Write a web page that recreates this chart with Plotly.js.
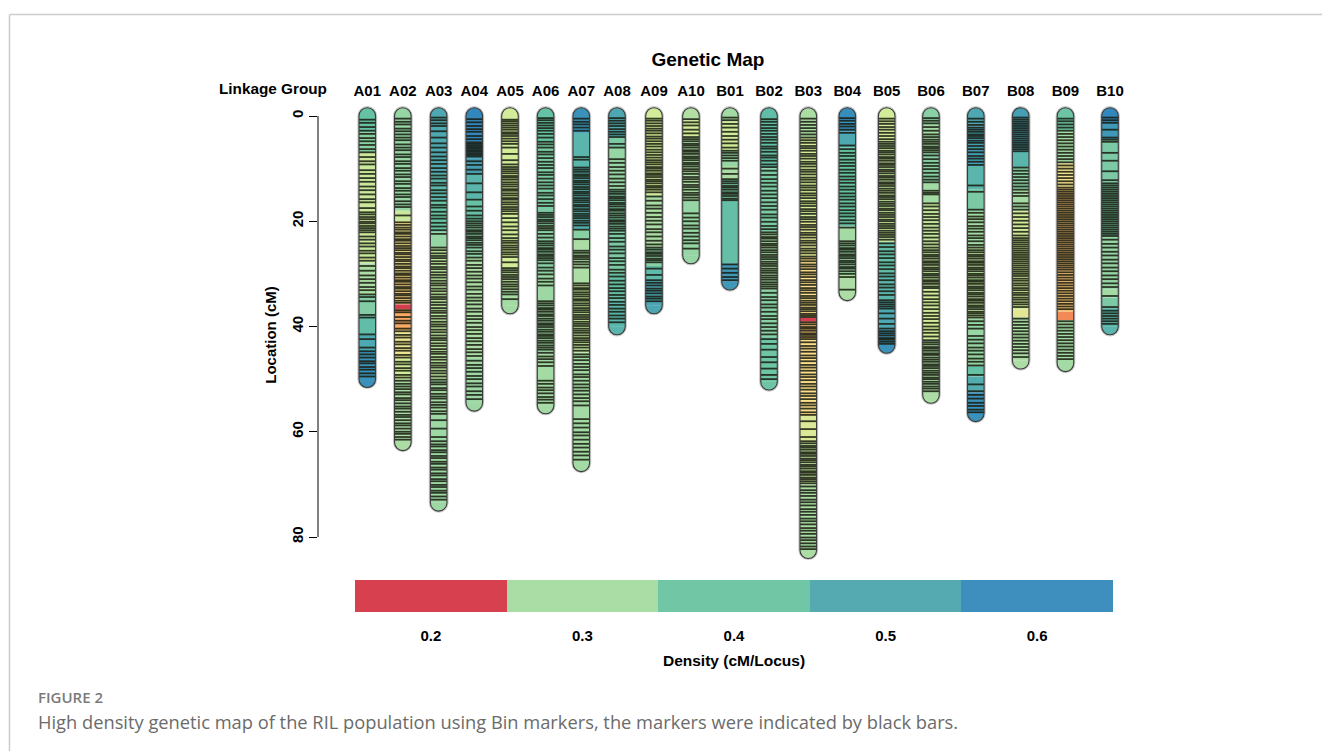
<!DOCTYPE html>
<html><head><meta charset="utf-8">
<script src="https://cdn.plot.ly/plotly-3.0.1.min.js"></script>
<style>html,body{margin:0;padding:0;background:#fff;}#chart{width:1322px;height:751px;}</style>
</head><body><div id="chart"></div>
<script>
// ---------------- DATA ----------------
const groups = ['A01','A02','A03','A04','A05','A06','A07','A08','A09','A10','B01','B02','B03','B04','B05','B06','B07','B08','B09','B10'];
const groupLengths = [50,62,73.5,54.5,36,55,66,40,36,26.5,31.5,50.5,82.5,33.5,43.5,53,56.5,46.5,47,40];

// density segments: [start cM, density cM/locus]
const segA01 = [[0,0.45],[3,0.40],[7,0.31],[28,0.35],[34,0.41],[38,0.47],[41.5,0.55],[44.5,0.62]];
const segA02 = [[0,0.38],[18,0.31],[20,0.26],[30,0.24],[35.8,0.15],[36.7,0.21],[40.7,0.27],[46,0.30],[50,0.35]];
const segA03 = [[0,0.55],[11,0.50],[16,0.45],[22,0.38],[25,0.33],[50,0.36],[56,0.37]];
const segA04 = [[0,0.65],[5,0.60],[8,0.58],[11,0.50],[16,0.45],[20,0.40],[27,0.35],[46,0.37]];
const segA05 = [[0,0.30],[29,0.33],[33,0.36]];
const segA06 = [[0,0.45],[5,0.42],[20,0.40],[30,0.37],[45,0.36]];
const segA07 = [[0,0.62],[3.2,0.50],[9.5,0.53],[21.5,0.40],[23.5,0.35],[32,0.32],[45,0.36]];
const segA08 = [[0,0.55],[4,0.42],[6,0.38],[14,0.42],[30,0.46],[35,0.50]];
const segA09 = [[0,0.30],[15,0.35],[25,0.40],[28.5,0.48],[31,0.56]];
const segA10 = [[0,0.34],[0.8,0.30],[4,0.35],[16,0.38]];
const segB01 = [[0,0.36],[1,0.30],[6.5,0.38],[9.5,0.35],[12,0.42],[16,0.46],[28,0.60]];
const segB02 = [[0,0.47],[10,0.42],[22,0.36],[33,0.40],[42,0.44]];
const segB03 = [[0,0.35],[4,0.30],[20,0.28],[27,0.25],[38.3,0.15],[39.1,0.23],[42.5,0.25],[57,0.29],[62,0.32],[70,0.35]];
const segB04 = [[0,0.63],[3,0.55],[6,0.45],[21,0.36],[24,0.38],[30,0.35]];
const segB05 = [[0,0.30],[5,0.32],[24,0.47],[30,0.50],[35,0.55],[40.5,0.62]];
const segB06 = [[0,0.40],[1.5,0.36],[7,0.40],[12.5,0.36],[16.5,0.32],[33,0.30],[42.5,0.35]];
const segB07 = [[0,0.55],[2,0.58],[9.5,0.50],[14,0.42],[18,0.36],[25,0.33],[38.5,0.38],[47.5,0.45],[49.5,0.53],[52.5,0.62]];
const segB08 = [[0,0.58],[6.8,0.50],[9.7,0.40],[14,0.36],[18,0.30],[36.8,0.28],[38.3,0.35]];
const segB09 = [[0,0.44],[2.7,0.36],[9,0.26],[13.5,0.23],[37.2,0.19],[38.8,0.36]];
const segB10 = [[0,0.65],[1.5,0.60],[4.5,0.42],[12.5,0.43],[23,0.38],[33,0.36],[34.5,0.42],[36.5,0.50]];

// bin marker positions (cM)
const mA01 = [0.7,1.3,2.1,2.8,3.4,4.2,4.8,5.5,6.3,6.9,7.8,8.6,9.2,10.3,11.0,11.8,12.5,13.4,14.1,14.9,15.8,16.4,17.5,18.3,18.7,19.2,19.6,20.1,20.4,20.9,21.3,21.7,22.1,22.9,23.5,24.2,24.8,25.6,26.1,26.9,27.5,28.5,29.4,30.3,31.0,31.7,32.5,33.1,33.9,34.4,35.2,37.8,38.3,41.5,42.4,44.0,44.7,45.3,45.9,46.6,47.0,47.7,48.2,48.9,49.5];
const mA02 = [0.5,1.1,1.6,2.4,2.9,3.5,4.1,4.6,5.4,6.0,6.5,7.3,7.8,8.6,9.1,9.9,10.4,11.1,11.6,12.4,12.9,13.7,14.2,14.9,15.4,16.2,16.8,17.3,18.9,20.2,20.7,21.2,21.6,22.1,22.4,22.9,23.4,23.7,24.2,24.7,25.1,25.5,26.0,26.3,26.8,27.3,27.6,28.1,28.6,28.9,29.4,29.9,30.2,30.7,31.2,31.5,32.0,32.5,32.8,33.3,33.8,34.1,34.6,35.1,35.5,36.9,37.3,38.2,38.9,39.4,40.4,40.9,41.6,42.1,42.9,43.4,44.1,44.6,45.4,45.9,46.7,47.2,47.9,48.4,49.2,49.7,50.3,50.9,51.4,51.9,52.5,52.9,53.6,54.0,54.6,55.2,55.6,56.2,56.8,57.2,57.8,58.4,58.8,59.4,60.0,60.4,61.0,61.5];
const mA03 = [0.3,0.8,1.4,1.9,2.9,4.1,5.2,6.0,6.9,7.7,8.4,9.1,9.9,10.6,11.3,11.9,12.7,13.2,14.1,14.7,15.4,16.1,16.9,17.4,18.2,18.9,19.5,20.3,21.0,21.7,22.4,25.0,25.5,26.1,26.6,27.0,27.6,28.1,28.7,29.1,29.7,30.2,30.7,31.3,31.8,32.2,32.8,33.3,33.9,34.4,34.8,35.4,35.9,36.5,37.0,37.4,38.0,38.5,39.1,39.6,40.0,40.6,41.1,41.7,42.2,42.6,43.2,43.7,44.3,44.8,45.2,45.8,46.3,46.9,47.4,47.8,48.4,48.9,49.5,50.1,50.6,51.0,51.7,52.1,52.8,53.3,53.7,54.4,54.9,55.4,56.1,56.6,57.8,59.4,61.0,61.8,62.4,62.8,63.5,63.9,64.6,65.0,65.7,66.1,66.8,67.2,67.9,68.3,69.0,69.4,70.1,70.5,71.2,71.6,72.3,72.9];
const mA04 = [0.6,1.2,1.9,2.5,3.0,3.8,4.4,5.0,5.3,5.6,5.9,6.2,6.5,6.8,7.1,7.4,7.7,8.6,9.3,10.2,11.0,12.8,14.5,15.9,17.2,18.0,18.9,19.5,20.0,20.4,20.8,21.2,21.7,22.0,22.4,22.9,23.2,23.6,24.1,24.5,25.0,25.7,26.2,26.9,27.5,28.3,28.9,29.6,30.3,30.9,31.6,32.4,33.0,33.8,34.5,35.1,35.8,36.6,37.2,38.0,38.6,39.3,40.1,40.7,41.4,42.2,42.8,43.5,44.3,44.9,45.6,46.5,47.3,47.9,48.6,49.4,50.0,50.8,51.4,52.3,53.0,53.8];
const mA05 = [0.7,1.0,1.4,1.8,2.2,2.6,3.1,3.4,3.8,4.3,4.8,5.3,6.0,7.2,8.4,9.2,9.7,10.1,10.5,10.9,11.4,11.7,12.1,12.6,13.0,13.4,13.9,14.2,14.7,15.1,15.6,15.9,16.4,16.8,17.3,17.7,18.1,18.6,19.4,20.2,21.0,21.7,22.5,23.2,23.7,24.1,24.6,25.0,25.4,25.9,26.3,26.8,27.8,28.9,29.3,29.7,30.2,30.6,31.0,31.5,32.0,32.4,32.9,33.4,33.9,34.8];
const mA06 = [0.4,0.8,1.3,1.8,2.3,2.8,3.4,4.1,4.9,5.4,6.0,6.8,7.3,8.0,8.7,9.3,9.9,10.7,11.2,11.9,12.6,13.2,13.8,14.6,15.1,15.8,16.5,17.1,18.4,18.8,19.2,19.7,20.0,20.4,20.9,21.3,21.7,22.4,23.1,23.8,24.2,24.6,25.1,25.4,25.8,26.3,26.6,27.0,27.4,28.0,28.8,29.4,30.1,30.9,31.5,32.2,35.2,35.6,36.0,36.5,36.8,37.2,37.7,38.0,38.5,38.9,39.4,39.7,40.1,40.6,41.0,41.5,41.8,42.2,42.7,43.1,43.6,44.0,44.4,45.0,45.7,46.2,46.8,47.5,50.3,50.9,51.6,52.1,52.7,53.4,53.9,54.5];
const mA07 = [0.5,1.1,1.6,2.2,2.8,7.8,8.3,9.8,10.2,10.6,11.1,11.4,11.8,12.3,12.6,13.0,13.5,13.9,14.4,14.7,15.1,15.6,16.0,16.4,16.9,17.2,17.7,18.1,18.6,19.0,19.4,19.9,20.3,20.8,21.6,23.4,25.6,26.0,26.5,26.8,27.2,27.7,28.2,28.8,31.8,32.2,32.7,33.0,33.5,33.9,34.3,34.8,35.1,35.6,36.0,36.5,36.9,37.3,37.8,38.2,38.6,39.1,39.5,39.9,40.4,40.8,41.2,41.7,42.2,42.6,43.0,43.5,44.0,44.6,45.3,45.8,46.4,47.1,47.7,48.3,49.1,49.6,50.3,51.0,51.6,52.2,52.9,53.6,54.2,55.0,57.6,58.4,59.2,60.1,60.7,61.5,62.3,63.0,63.8,64.5,65.3];
const mA08 = [0.4,0.9,1.4,1.9,2.5,3.0,3.5,4.0,5.3,6.0,8.2,8.9,9.7,10.4,11.1,11.9,12.6,13.3,14.0,14.4,14.8,15.3,15.6,16.0,16.5,16.8,17.2,17.7,18.0,18.5,18.9,19.3,19.8,20.1,20.5,21.0,21.4,21.8,22.4,23.2,23.9,24.8,25.4,26.1,27.0,27.6,28.3,29.2,29.8,30.5,31.3,32.0,32.7,33.3,34.0,34.6,35.3,35.9,36.6,37.2,37.9,38.5,39.2];
const mA09 = [0.5,0.9,1.4,1.9,2.4,2.8,3.3,3.9,4.3,4.8,5.3,5.8,6.4,6.9,7.4,7.9,8.4,8.8,9.2,9.7,10.0,10.4,10.9,11.2,11.6,12.1,12.4,12.8,13.3,13.6,14.0,14.5,15.3,16.1,17.0,17.6,18.4,19.2,19.9,20.6,21.5,22.1,22.9,23.7,24.4,25.0,25.4,25.9,26.2,26.6,27.1,27.4,27.8,29.0,30.2,31.2,31.7,32.2,32.8,33.2,33.7,34.3,34.7,35.2];
const mA10 = [0.6,1.2,1.8,2.6,3.3,4.0,4.4,4.8,5.3,5.6,6.0,6.5,6.8,7.2,7.7,8.0,8.4,8.9,9.2,9.6,10.1,10.5,11.0,11.6,12.0,12.5,13.1,13.5,14.0,14.6,15.0,15.5,16.0,18.5,19.3,20.0,20.8,21.4,22.2,22.9,23.6,24.2,25.2];
const mB01 = [0.3,0.8,1.5,2.2,3.0,3.8,4.5,5.2,6.0,6.6,7.0,7.5,8.0,8.5,10.0,11.0,12.0,12.4,12.8,13.3,13.6,14.0,14.5,14.8,15.2,15.7,16.0,28.2,29.0,29.8,30.6,31.2];
const mB02 = [0.6,1.1,1.7,2.3,2.8,3.4,4.0,4.5,5.1,5.8,6.2,6.8,7.5,7.9,8.5,9.2,9.7,10.4,11.2,12.0,12.7,13.4,14.2,14.9,15.6,16.4,17.1,17.8,18.7,19.3,20.1,20.9,21.5,22.1,22.5,23.0,23.3,23.8,24.3,24.6,25.0,25.5,25.9,26.4,26.8,27.2,27.7,28.1,28.5,29.0,29.4,29.8,30.3,30.7,31.1,31.6,32.0,32.4,32.8,33.6,34.4,35.0,35.8,36.4,37.2,38.0,38.6,39.4,40.1,40.8,41.5,42.4,43.3,44.4,45.8,46.8,48.0,49.2,50.0];
const mB03 = [0.5,1.1,1.7,2.3,2.9,3.5,4.1,4.6,5.1,5.7,6.1,6.6,7.2,7.6,8.1,8.7,9.1,9.6,10.2,10.6,11.1,11.7,12.1,12.6,13.2,13.6,14.1,14.7,15.1,15.6,16.2,16.6,17.1,17.7,18.1,18.6,19.2,19.6,20.1,20.7,21.1,21.6,22.2,22.6,23.1,23.7,24.1,24.6,25.2,25.6,26.1,26.7,27.1,27.6,28.2,28.6,29.1,29.7,30.1,30.6,31.2,31.6,32.1,32.7,33.1,33.6,34.2,34.6,35.1,35.5,35.9,36.4,36.7,37.1,37.6,37.9,38.2,39.2,39.6,40.1,40.4,40.8,41.3,41.6,42.0,42.4,43.0,43.7,44.2,44.8,45.5,46.0,46.6,47.3,47.8,48.4,49.1,49.6,50.2,50.9,51.4,52.0,52.7,53.2,53.8,54.5,55.0,55.6,56.3,56.8,58.0,59.5,61.0,61.8,62.2,62.7,63.0,63.4,63.9,64.2,64.6,65.1,65.4,65.8,66.3,66.6,67.0,67.5,67.8,68.2,68.7,69.0,69.4,69.8,70.4,71.1,71.6,72.2,72.9,73.4,74.0,74.7,75.2,75.8,76.5,77.0,77.6,78.3,78.8,79.4,80.1,80.6,81.2,81.8,82.3];
const mB04 = [0.4,0.9,1.5,2.0,2.6,3.2,5.6,6.3,7.0,7.6,8.3,8.9,9.5,10.2,10.8,11.5,12.1,12.7,13.4,14.0,14.7,15.3,15.9,16.6,17.2,17.9,18.5,19.1,19.8,20.4,21.2,23.8,24.2,24.6,25.1,25.4,25.8,26.3,26.6,27.0,27.5,27.8,28.2,28.7,29.0,29.5,30.0,30.6,33.0];
const mB05 = [0.5,1.0,1.5,2.1,2.6,3.2,3.8,4.4,4.9,5.3,5.7,6.1,6.6,6.9,7.3,7.8,8.1,8.5,9.0,9.3,9.7,10.2,10.5,10.9,11.4,11.7,12.1,12.6,12.9,13.3,13.8,14.2,14.6,15.1,15.4,15.8,16.3,16.7,17.1,17.6,17.9,18.4,18.8,19.2,19.7,20.0,20.5,20.9,21.3,21.8,22.2,22.6,23.0,23.5,24.2,24.9,25.7,26.3,27.0,27.8,28.4,29.1,29.9,30.5,31.2,32.0,32.6,33.3,34.0,35.0,35.4,35.8,36.2,36.6,37.5,38.5,39.5,40.4,40.9,41.3,41.7,42.2,42.5,42.9,43.3];
const mB06 = [0.4,0.9,1.4,2.1,2.8,3.5,4.0,4.5,4.9,5.3,5.8,6.1,6.5,6.9,7.5,8.2,8.9,9.5,10.1,10.8,11.5,12.1,12.6,14.2,14.6,14.9,16.6,17.2,17.9,18.6,19.2,19.8,20.5,21.2,21.8,22.4,23.1,23.8,24.4,25.0,25.5,25.9,26.4,26.7,27.1,27.6,27.9,28.3,28.8,29.1,29.5,30.0,30.3,30.7,31.2,31.5,31.9,32.4,32.7,33.4,34.1,34.8,35.4,36.0,36.7,37.4,38.0,38.6,39.3,40.0,40.6,41.2,41.9,42.6,43.0,43.4,43.9,44.2,44.6,45.1,45.4,45.9,46.3,46.7,47.2,47.5,47.9,48.4,48.8,49.2,49.7,50.0,50.5,50.9,51.4,51.8,52.3];
const mB07 = [0.5,1.1,1.7,2.2,2.6,3.0,3.5,3.8,4.2,4.7,5.1,5.7,6.3,6.9,7.6,8.1,8.7,9.3,13.2,14.4,17.8,18.4,19.1,19.6,20.2,20.9,21.4,22.0,22.7,23.2,23.8,24.5,25.0,25.5,25.9,26.4,26.7,27.1,27.6,27.9,28.3,28.8,29.1,29.5,30.0,30.3,30.7,31.2,31.5,31.9,32.4,32.7,33.1,33.6,33.9,34.3,34.8,35.1,35.5,36.0,36.3,36.7,37.2,37.5,37.9,38.3,39.0,39.7,40.4,41.8,42.5,43.2,44.0,44.6,45.3,46.1,46.7,47.4,49.2,51.0,52.3,53.0,53.7,54.5,55.1,55.8,56.3];
const mB08 = [0.3,0.7,1.1,1.5,1.9,2.3,2.7,3.1,3.5,3.9,4.3,4.7,5.1,5.5,5.9,6.3,6.7,9.8,10.4,11.0,11.6,12.2,12.8,13.4,14.0,14.6,15.2,16.6,17.2,17.8,18.5,19.2,19.9,20.6,21.3,22.0,22.7,23.2,23.6,24.0,24.4,24.8,25.2,25.6,26.0,26.4,26.8,27.2,27.6,28.0,28.4,28.8,29.2,29.6,30.0,30.4,30.9,31.3,31.8,32.2,32.7,33.1,33.6,34.0,34.5,34.9,35.4,35.8,36.3,38.5,39.1,39.7,40.3,40.9,41.5,42.1,42.7,43.3,43.9,44.5,45.1,45.8];
const mB09 = [0.5,1.0,1.6,2.2,2.8,3.4,4.0,4.6,5.2,5.8,6.4,7.0,7.6,8.2,8.8,9.4,10.0,10.6,11.2,11.8,12.4,13.0,13.6,14.0,14.4,14.8,15.2,15.6,16.0,16.4,16.8,17.2,17.6,18.0,18.4,18.8,19.2,19.6,20.0,20.4,20.8,21.2,21.6,22.0,22.4,22.8,23.2,23.6,24.0,24.4,24.8,25.2,25.6,26.0,26.4,26.8,27.2,27.6,28.0,28.4,28.8,29.2,29.7,30.2,30.7,31.2,31.7,32.2,32.7,33.2,33.7,34.2,34.7,35.2,35.7,36.2,36.7,39.0,39.6,40.2,40.8,41.4,42.0,42.6,43.2,43.8,44.4,45.0,45.6,46.2];
const mB10 = [0.3,0.8,1.3,2.6,4.1,4.5,4.9,7.0,8.5,10.5,12.2,12.8,13.2,13.6,14.0,14.4,14.8,15.2,15.6,16.0,16.4,16.8,17.2,17.6,18.0,18.4,18.8,19.2,19.6,20.0,20.4,20.8,21.2,21.6,22.0,22.4,22.8,23.5,24.3,25.0,25.8,26.5,27.3,28.0,28.8,29.5,30.3,31.0,31.8,32.5,34.2,36.3,37.0,37.5,38.0,38.5,39.0,39.5];

const yTickVals = [0, 20, 40, 60, 80];
const legendDensity = [0.2, 0.3, 0.4, 0.5, 0.6];
const legendLabels = ['0.2', '0.3', '0.4', '0.5', '0.6'];

// ---------------- LAYOUT / STYLE ----------------
const segSets = [segA01,segA02,segA03,segA04,segA05,segA06,segA07,segA08,segA09,segA10,segB01,segB02,segB03,segB04,segB05,segB06,segB07,segB08,segB09,segB10];
const markerSets = [mA01,mA02,mA03,mA04,mA05,mA06,mA07,mA08,mA09,mA10,mB01,mB02,mB03,mB04,mB05,mB06,mB07,mB08,mB09,mB10];
const groupX = [0,0.987,1.983,2.972,3.964,4.953,5.944,6.936,7.964,8.991,10.075,11.159,12.25,13.333,14.428,15.658,16.903,18.15,19.393,20.631];
const HW = 0.23;           // half width of a chromosome (x units)
const RY = 8.3 / 5.2625;   // cap radius in cM
const K = 0.5523;
const legendColors = ['#d7404f', '#aadda5', '#71c6a6', '#54aab0', '#3e8fbd'];
const densStops = [0.15, 0.20, 0.25, 0.30, 0.35, 0.45, 0.55, 0.65];
const stopColors = ['#d53e4f', '#f99d59', '#fddf8b', '#d2ec9a', '#abdda4', '#66c2a5', '#4ea8b2', '#3288bd'];

function hex2rgb(h) { return [1,3,5].map(i => parseInt(h.substr(i,2),16)); }
function densColor(d) {
  if (d <= densStops[0]) return stopColors[0];
  if (d >= densStops[densStops.length-1]) return stopColors[stopColors.length-1];
  for (let i = 0; i < densStops.length-1; i++) {
    if (d >= densStops[i] && d <= densStops[i+1]) {
      const t = (d - densStops[i]) / (densStops[i+1] - densStops[i]);
      const a = hex2rgb(stopColors[i]), b = hex2rgb(stopColors[i+1]);
      const c = a.map((v, j) => Math.round(v + (b[j]-v)*t));
      return 'rgb(' + c.join(',') + ')';
    }
  }
}
function capsulePath(c, L) {
  const l = c - HW, r = c + HW;
  return `M${l},0 L${l},${L} C${l},${L+K*RY} ${c-K*HW},${L+RY} ${c},${L+RY} C${c+K*HW},${L+RY} ${r},${L+K*RY} ${r},${L} L${r},0 C${r},${-K*RY} ${c+K*HW},${-RY} ${c},${-RY} C${c-K*HW},${-RY} ${l},${-K*RY} ${l},0 Z`;
}
function topCap(c) {
  const l = c - HW, r = c + HW;
  return `M${l},0.05 L${l},0 C${l},${-K*RY} ${c-K*HW},${-RY} ${c},${-RY} C${c+K*HW},${-RY} ${r},${-K*RY} ${r},0 L${r},0.05 Z`;
}
function bottomCap(c, L) {
  const l = c - HW, r = c + HW;
  return `M${l},${L-0.05} L${l},${L} C${l},${L+K*RY} ${c-K*HW},${L+RY} ${c},${L+RY} C${c+K*HW},${L+RY} ${r},${L+K*RY} ${r},${L} L${r},${L-0.05} Z`;
}

const halo = [], fills = [], outlines = [];
groups.forEach((g, i) => {
  const c = groupX[i], L = groupLengths[i], segs = segSets[i];
  halo.push({type:'path', xref:'x', yref:'y', path: capsulePath(c, L), line:{color:'#c6c6c6', width:3.2}, fillcolor:'rgba(0,0,0,0)', layer:'below'});
  segs.forEach((s, j) => {
    const end = j < segs.length-1 ? segs[j+1][0] : L;
    fills.push({type:'rect', xref:'x', yref:'y', x0:c-HW, x1:c+HW, y0:s[0], y1:end, fillcolor:densColor(s[1]), line:{width:0}, layer:'below'});
  });
  fills.push({type:'path', xref:'x', yref:'y', path: topCap(c), fillcolor:densColor(segs[0][1]), line:{width:0}, layer:'below'});
  fills.push({type:'path', xref:'x', yref:'y', path: bottomCap(c, L), fillcolor:densColor(segs[segs.length-1][1]), line:{width:0}, layer:'below'});
  outlines.push({type:'path', xref:'x', yref:'y', path: capsulePath(c, L), line:{color:'#3c3c3c', width:1.1}, fillcolor:'rgba(0,0,0,0)', layer:'above'});
});

// axis line drawn only across the tick range (R style)
const axisLine = {type:'line', xref:'paper', yref:'y', x0:0, x1:0, y0:yTickVals[0], y1:yTickVals[yTickVals.length-1], line:{color:'#000', width:1}, layer:'above'};
// figure frame
const frame = [
  {type:'line', xref:'paper', yref:'paper', x0:-0.3753, x1:1.25, y0:1.1555, y1:1.1555, line:{color:'#cccccc', width:1.5}},
  {type:'line', xref:'paper', yref:'paper', x0:-0.3753, x1:-0.3753, y0:1.1555, y1:-0.2, line:{color:'#cccccc', width:1.5}}
];

// marker lines
const mx = [], my = [];
markerSets.forEach((ms, i) => {
  const c = groupX[i];
  ms.forEach(p => { mx.push(c-HW, c+HW, null); my.push(p, p, null); });
});

const traces = [
  {type:'scatter', mode:'lines', x:mx, y:my, xaxis:'x', yaxis:'y', line:{color:'rgba(24,28,16,0.86)', width:1.8}, hoverinfo:'skip', showlegend:false},
  {type:'bar', x:legendDensity, y:legendDensity.map(() => 1), width:0.1, xaxis:'x2', yaxis:'y2', marker:{color:legendColors, line:{width:0}}, hoverinfo:'skip', showlegend:false}
];

const bold = s => '<b>' + s + '</b>';
const layout = {
  width:1322, height:751,
  margin:{l:318, r:182, t:100, b:101, pad:0},
  paper_bgcolor:'#ffffff', plot_bgcolor:'rgba(0,0,0,0)',
  font:{family:'Liberation Sans, Arial, sans-serif', color:'#000'},
  showlegend:false, hovermode:false, bargap:0,
  title:{text:bold('Genetic Map'), font:{size:19, color:'#000'}, x:708/1322, xref:'container', xanchor:'center', y:1-59/751, yref:'container', yanchor:'middle'},
  xaxis:{domain:[0,1], anchor:'y', range:[-1.369, 21.464], side:'top', tickvals:groupX, ticktext:groups.map(bold), ticks:'', showline:false, showgrid:false, zeroline:false, tickfont:{size:15}, fixedrange:true},
  yaxis:{domain:[0.14545,1], anchor:'x', range:[86.27,-3.04], tickvals:yTickVals, ticktext:yTickVals.map(v => bold(String(v))), ticks:'outside', ticklen:8, tickwidth:1, tickcolor:'#000', tickangle:-90, showline:false, showgrid:false, zeroline:false, tickfont:{size:15}, title:{text:bold('Location (cM)'), font:{size:15}, standoff:8}, fixedrange:true},
  xaxis2:{domain:[0.04501,0.96715], anchor:'y2', range:[0.15,0.65], tickvals:legendDensity, ticktext:legendLabels.map(bold), ticks:'outside', ticklen:10, tickcolor:'rgba(0,0,0,0)', showline:false, showgrid:false, zeroline:false, tickfont:{size:15}, title:{text:bold('Density (cM/Locus)'), font:{size:15.5}, standoff:12}, fixedrange:true},
  yaxis2:{domain:[0.06909,0.12727], anchor:'x2', range:[0,1], visible:false, fixedrange:true},
  shapes: [].concat(halo, fills, outlines, [axisLine], frame),
  annotations:[
    {text:bold('Linkage Group'), xref:'paper', yref:'paper', x:-0.0547, y:(650-89)/550, xanchor:'center', yanchor:'middle', showarrow:false, font:{size:15.3}},
    {text:'FIGURE 2', xref:'paper', yref:'paper', x:-0.3431, y:(650-697)/550, xanchor:'left', yanchor:'middle', showarrow:false, font:{family:'Open Sans, sans-serif', size:15, color:'#7a7a7a', weight:600}},
    {text:'High density genetic map of the RIL population using Bin markers, the markers were indicated by black bars.', xref:'paper', yref:'paper', x:-0.3431, y:(650-721)/550, xanchor:'left', yanchor:'middle', showarrow:false, font:{family:'Open Sans, sans-serif', size:18.3, color:'#6b6b6b'}}
  ]
};

Plotly.newPlot('chart', traces, layout, {displayModeBar:false, staticPlot:true});
</script>
</body></html>
